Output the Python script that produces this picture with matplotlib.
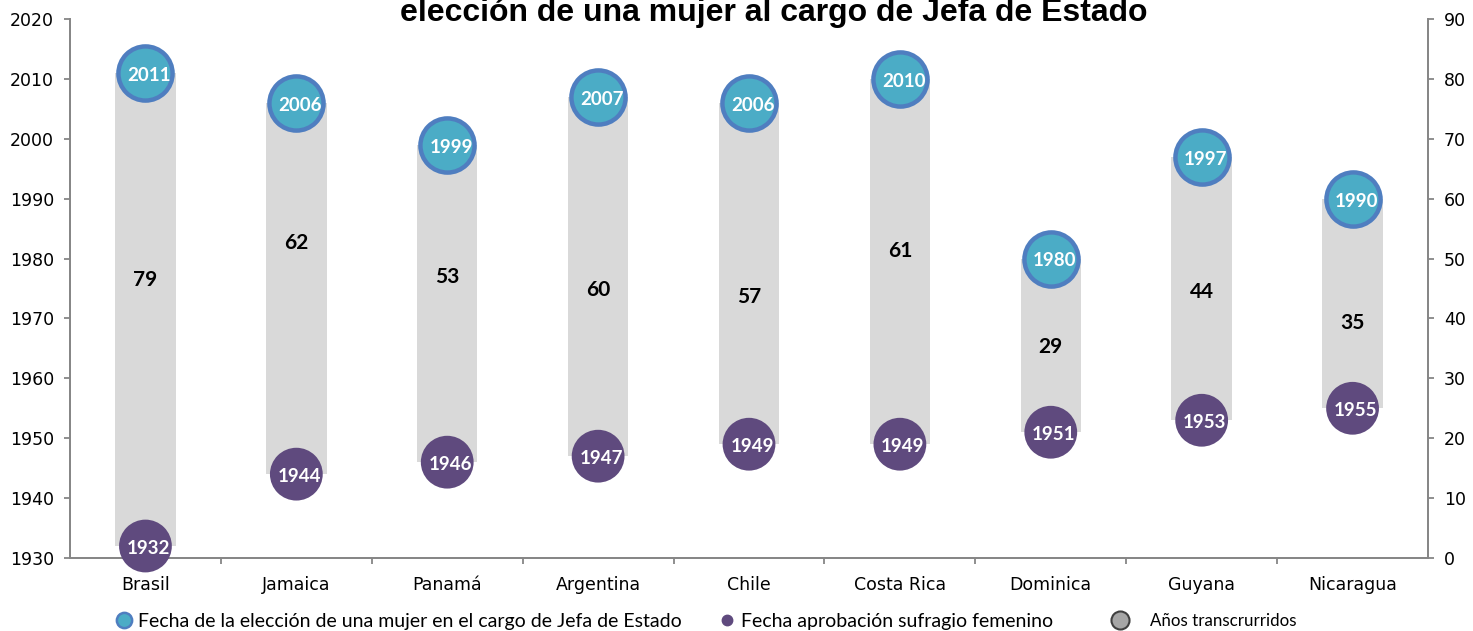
import matplotlib
matplotlib.use("Agg")
import matplotlib.pyplot as plt
from matplotlib.lines import Line2D

countries = ["Brasil", "Jamaica", "Panamá", "Argentina", "Chile", "Costa Rica",
             "Dominica", "Guyana", "Nicaragua"]
election_year = [2011, 2006, 1999, 2007, 2006, 2010, 1980, 1997, 1990]
suffrage_year = [1932, 1944, 1946, 1947, 1949, 1949, 1951, 1953, 1955]
years_elapsed = [79, 62, 53, 60, 57, 61, 29, 44, 35]
# height (in years on the left axis) at which each elapsed-years label sits
elapsed_label_at = [1976.5, 1982.6, 1977.0, 1974.8, 1973.6, 1981.2, 1965.2, 1974.4, 1969.2]

title = "elección de una mujer al cargo de Jefa de Estado"
leg_labels = ["Fecha de la elección de una mujer en el cargo de Jefa de Estado",
              "Fecha aprobación sufragio femenino",
              "Años transcrurridos"]

CYAN = "#4BACC6"
BLUE_EDGE = "#4F7EC0"
PURPLE = "#5F4A7E"
GRAY_BAR = "#D9D9D9"
AXIS_GRAY = "#868686"

W, H = 1473, 631
fig = plt.figure(figsize=(W / 100, H / 100), dpi=100)
ax = fig.add_axes([70/W, 1-558/H, (1428-70)/W, (558-19)/H])
ax2 = ax.twinx()

x = list(range(len(countries)))
heights = [e - s for e, s in zip(election_year, suffrage_year)]
ax.bar(x, heights, bottom=suffrage_year, width=0.40, color=GRAY_BAR, zorder=1)

ax.scatter(x, election_year, s=39**2, color=CYAN, edgecolors=BLUE_EDGE,
           linewidths=3.2, zorder=3, clip_on=False)
ax.scatter(x, suffrage_year, s=38**2, color=PURPLE, edgecolors="none",
           zorder=3, clip_on=False)

for xi, e, s, n, ly in zip(x, election_year, suffrage_year, years_elapsed, elapsed_label_at):
    ax.text(xi + 0.025, e - 0.4, str(e), color="white", fontsize=13.5, fontweight="bold",
            family="Lato", ha="center", va="center", zorder=4)
    ax.text(xi + 0.02, s - 0.4, str(s), color="white", fontsize=13.5, fontweight="bold",
            family="Lato", ha="center", va="center", zorder=4)
    ax.text(xi, ly, str(n), color="black", fontsize=15, fontweight="bold",
            family="Lato", ha="center", va="center", zorder=4)

ax.set_xlim(-0.5, len(countries) - 0.5)
ax.set_ylim(1930, 2020)
ax.set_yticks(range(1930, 2021, 10))
ax2.set_ylim(0, 90)
ax2.set_yticks(range(0, 91, 10))

ax.set_xticks(x)
ax.set_xticklabels(countries)
ax.set_xticks([i + 0.5 for i in range(len(countries) - 1)], minor=True)
ax.tick_params(axis="x", which="major", length=0, pad=13, labelsize=12.5)
ax.tick_params(axis="x", which="minor", length=4.5, color=AXIS_GRAY, width=1.3)
ax.tick_params(axis="y", length=4.5, color=AXIS_GRAY, width=1.3, labelsize=12.5, pad=7)
ax2.tick_params(axis="y", length=4.5, color=AXIS_GRAY, width=1.3, labelsize=12.5, pad=7)

for a in (ax, ax2):
    a.spines["top"].set_visible(False)
    for sp in ("left", "right", "bottom"):
        a.spines[sp].set_color(AXIS_GRAY)
        a.spines[sp].set_linewidth(1.3)
ax.set_zorder(ax2.get_zorder() + 1)
ax.patch.set_visible(False)

fig.text(774/W, 1 - 21/H, title, ha="center", va="baseline", fontsize=23,
         fontweight="bold", family="Liberation Sans")

handles = [
    Line2D([], [], marker="o", linestyle="none", markersize=11, markerfacecolor=CYAN,
           markeredgecolor=BLUE_EDGE, markeredgewidth=1.8),
    Line2D([], [], marker="o", linestyle="none", markersize=7.5, markerfacecolor=PURPLE,
           markeredgecolor=PURPLE),
    Line2D([], [], marker="o", linestyle="none", markersize=13, markerfacecolor="#A6A6A6",
           markeredgecolor="#404040", markeredgewidth=1.5),
]
# (marker x in px, font size, handletextpad)
leg_specs = [(124, 14, 0.33), (727, 14, 0.33), (1120, 12.2, 1.38)]
for h, lab, (mx, fs, htp) in zip(handles, leg_labels, leg_specs):
    fs_px = fs * 100 / 72
    anchor_x = mx - 0.4 * fs_px
    fig.legend([h], [lab], loc="center left", bbox_to_anchor=(anchor_x / W, 1 - 621 / H),
               frameon=False, prop={"family": "Lato", "size": fs},
               handletextpad=htp, handlelength=0.8, borderpad=0, borderaxespad=0)

fig.savefig("out.png", dpi=100)
